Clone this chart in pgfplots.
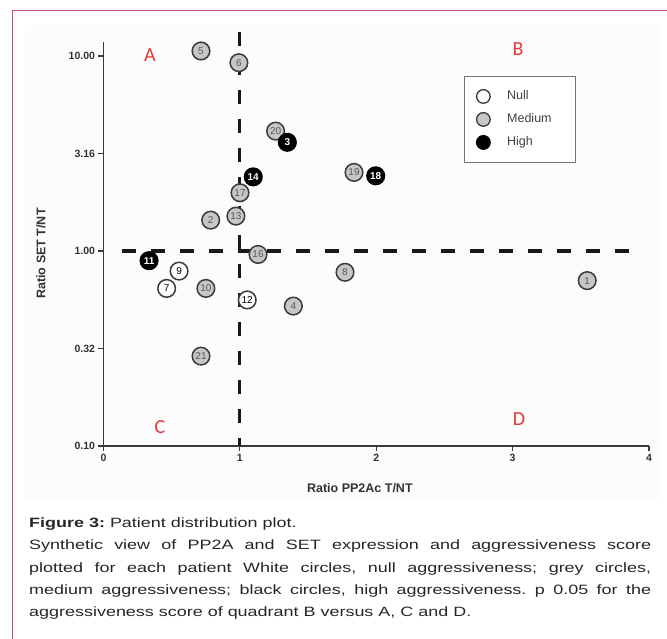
\documentclass[border=0pt]{standalone}
\usepackage{pgfplots}
\usepackage{pgfplotstable}
\pgfplotsset{compat=1.18}
\usepackage{fontspec}
\setmainfont{Liberation Sans}
\newfontfamily\carlito{Carlito}
\newfontfamily\capfont{Liberation Sans}[FakeStretch=1.33]
\frenchspacing

\definecolor{framepink}{HTML}{C8506E}
\definecolor{quadred}{HTML}{E53935}
\definecolor{medgray}{HTML}{C6C6C6}
\definecolor{edge}{HTML}{3A3A3A}
\definecolor{chartbg}{HTML}{FCFCFC}

\pgfplotstableread{
x y lab
0.715 10.61 5
0.993 9.24 6
1.262 4.12 20
1.001 1.99 17
0.971 1.51 13
0.786 1.44 2
1.133 0.96 16
1.837 2.53 19
0.751 0.643 10
1.392 0.522 4
0.715 0.289 21
1.771 0.778 8
3.547 0.705 1
}\medtab

\pgfplotstableread{
x y lab
0.554 0.789 9
0.463 0.643 7
1.054 0.561 12
}\nulltab

\pgfplotstableread{
x y lab
1.348 3.61 3
1.098 2.40 14
1.996 2.43 18
0.334 0.892 11
}\hightab

\begin{document}
\begin{tikzpicture}
\useasboundingbox (0pt,0pt) rectangle (667pt,639pt);
\fill[white] (0pt,0pt) rectangle (667pt,639pt);
\fill[chartbg] (25pt,139pt) rectangle (660pt,614pt);
\draw[framepink, line width=1.5pt] (12.5pt,0pt) -- (12.5pt,628.5pt) -- (667pt,628.5pt);

\begin{axis}[
  at={(103.5pt,193pt)}, anchor=south west,
  scale only axis, width=545.5pt, height=404pt,
  xmin=0, xmax=4, ymode=log, ymin=0.1, ymax=11.8,
  clip=false,
  axis lines=left,
  axis line style={edge, line width=1.3pt, -},
  xtick={0,1,2,3,4}, xticklabels={0,1,2,3,4},
  ytick={0.1,0.316228,1,3.16228,10},
  yticklabels={0.10,0.32,1.00,3.16,10.00},
  yminorticks=false, xminorticks=false,
  tick align=outside, major tick length=5pt,
  tick style={edge, line width=1.2pt},
  ticklabel style={font=\bfseries\fontsize{10.5}{11}\selectfont, text=black!80},
  xlabel={Ratio PP2Ac T/NT},
  ylabel={Ratio SET T/NT},
  xlabel style={at={(axis description cs:0.470,-0.104)}, anchor=center, font=\bfseries\fontsize{12.5}{13}\selectfont, text=black!80},
  ylabel style={at={(axis description cs:-0.1146,0.4765)}, anchor=center, font=\bfseries\fontsize{12.5}{13}\selectfont, text=black!80},
  legend style={at={(axis description cs:0.661,0.916)}, anchor=north west,
    draw=black!55, line width=1pt, fill=white,
    font=\fontsize{12.5}{14}\selectfont, text=black!75,
    inner xsep=12pt, inner ysep=12pt, row sep=7pt,
    nodes={inner sep=2pt, text height=9pt, text depth=3pt},
    /tikz/every odd column/.append style={column sep=15pt},
    /tikz/every even column/.append style={text width=54pt}},
  legend cell align=left,
]
% quadrant dividers
\addplot[forget plot, color=black!90, line width=3.2pt, dash pattern=on 14pt off 15pt] coordinates {(0.136,1) (3.91,1)};
\addplot[forget plot, color=black!90, line width=3.2pt, dash pattern=on 14pt off 15pt] coordinates {(1,13.27) (1,0.1)};

% medium
\addplot[forget plot, only marks, mark=*, mark size=8.8pt,
  mark options={fill=medgray, draw=edge, line width=1.5pt},
  nodes near coords, point meta=explicit symbolic,
  every node near coord/.append style={anchor=center, font=\fontsize{10}{10}\selectfont, text=black!65}]
  table[x=x, y=y, meta=lab] {\medtab};
% null
\addplot[forget plot, only marks, mark=*, mark size=8.8pt,
  mark options={fill=white, draw=edge, line width=1.5pt},
  nodes near coords, point meta=explicit symbolic,
  every node near coord/.append style={anchor=center, font=\fontsize{10}{10}\selectfont, text=black}]
  table[x=x, y=y, meta=lab] {\nulltab};
% high
\addplot[forget plot, only marks, mark=*, mark size=8.8pt,
  mark options={fill=black, draw=black, line width=1.5pt},
  nodes near coords, point meta=explicit symbolic,
  every node near coord/.append style={anchor=center, font=\bfseries\fontsize{10}{10}\selectfont, text=white}]
  table[x=x, y=y, meta=lab] {\hightab};

\addlegendimage{only marks, mark=*, mark size=6.8pt, mark options={fill=white, draw=edge, line width=1.3pt}}
\addlegendentry{Null}
\addlegendimage{only marks, mark=*, mark size=6.8pt, mark options={fill=medgray, draw=edge, line width=1.3pt}}
\addlegendentry{Medium}
\addlegendimage{only marks, mark=*, mark size=6.8pt, mark options={fill=black, draw=black, line width=1.3pt}}
\addlegendentry{High}

\node[text=quadred, font=\carlito\fontsize{20}{20}\selectfont] at (axis cs:0.341,10.1) {A};
\node[text=quadred, font=\carlito\fontsize{20}{20}\selectfont] at (axis cs:3.039,10.8) {B};
\node[text=quadred, font=\carlito\fontsize{20}{20}\selectfont] at (axis cs:0.414,0.125) {C};
\node[text=quadred, font=\carlito\fontsize{20}{20}\selectfont] at (axis cs:3.047,0.1368) {D};
\end{axis}

\node[anchor=north west, inner sep=0pt, text width=622pt, align=justify,
  font=\capfont\fontsize{13.5}{22.3}\selectfont, text=black!85] at (29pt,121.4pt)
{\textbf{Figure 3:} Patient distribution plot.\\
Synthetic view of PP2A and SET expression and aggressiveness score\linebreak
plotted for each patient White circles, null aggressiveness; grey circles,\linebreak
medium aggressiveness; black circles, high aggressiveness. p 0.05 for the\linebreak
aggressiveness score of quadrant B versus A, C and D.};
\end{tikzpicture}
\end{document}
